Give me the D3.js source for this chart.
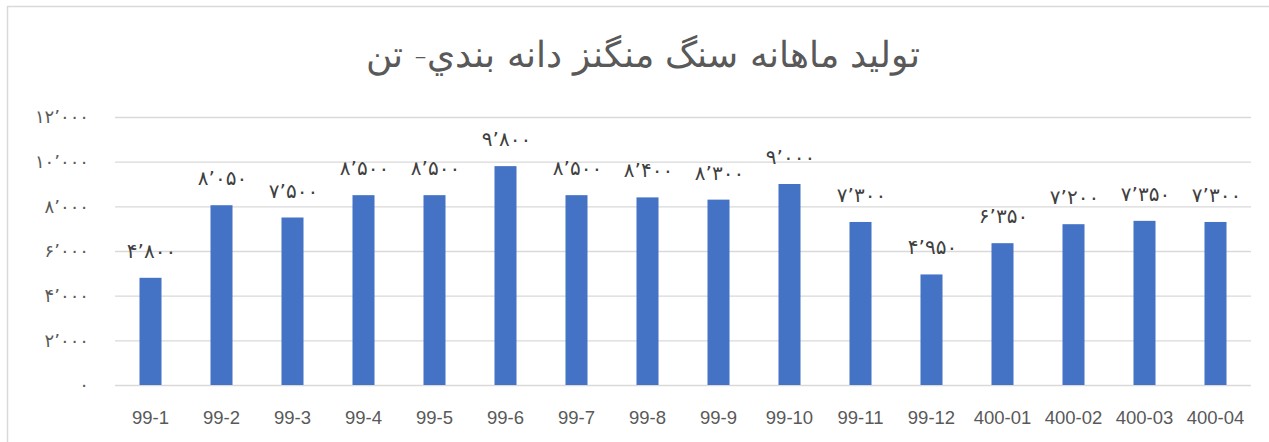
<!DOCTYPE html>
<html>
<head>
<meta charset="utf-8">
<script src="https://cdn.jsdelivr.net/npm/d3@7"></script>
<style>
  body { margin: 0; background: #fff; }
  svg { display: block; }
</style>
</head>
<body>
<div id="chart"></div>
<script>
/*------chart data------*/
var months = ["99-1", "99-2", "99-3", "99-4", "99-5", "99-6", "99-7", "99-8",
              "99-9", "99-10", "99-11", "99-12", "400-01", "400-02", "400-03", "400-04"];
var tons = [4800, 8050, 7500, 8500, 8500, 9800, 8500, 8400,
            8300, 9000, 7300, 4950, 6350, 7200, 7350, 7300];
var yTicks = [0, 2000, 4000, 6000, 8000, 10000, 12000];
var title = "تولید ماهانه سنگ منگنز دانه بندي- تن";

var width = 1269, height = 442;
var margin = {top: 117, right: 18, bottom: 57, left: 115};

var svg = d3.select("#chart")
    .append("svg")
    .attr("width", width)
    .attr("height", height);

// chart frame
svg.append("rect")
    .attr("x", 7.5).attr("y", 6.5)
    .attr("width", width).attr("height", height)
    .attr("fill", "none")
    .attr("stroke", "#d9d9d9")
    .attr("stroke-width", 1.5);

// persian digits with the ’ separator used in the original
var faDigits = "۰۱۲۳۴۵۶۷۸۹";
function faNum(v) {
  return d3.format(",")(v).replace(/,/g, "’").replace(/[0-9]/g, function(c) { return faDigits[+c]; });
}

var x = d3.scaleBand()
    .domain(months)
    .range([margin.left, width - margin.right])
    .paddingInner(0.69)
    .paddingOuter(0.345);

var y = d3.scaleLinear()
    .domain([0, 12000])
    .range([height - margin.bottom, margin.top]);

/*------gridlines------*/
svg.append("g")
    .selectAll("line")
    .data(yTicks)
    .enter()
    .append("line")
      .attr("x1", margin.left)
      .attr("x2", width - margin.right)
      .attr("y1", function(d) { return y(d) + 0.5; })
      .attr("y2", function(d) { return y(d) + 0.5; })
      .attr("stroke", "#d9d9d9")
      .attr("stroke-width", 1.3);

/*------y axis labels------*/
svg.append("g")
    .selectAll("text")
    .data(yTicks)
    .enter()
    .append("text")
      .attr("x", 89)
      .attr("y", function(d) { return y(d); })
      .attr("dy", "0.35em")
      .attr("text-anchor", "end")
      .attr("direction", "ltr")
      .style("font-family", "'DejaVu Sans', sans-serif")
      .style("font-size", "18px")
      .style("letter-spacing", "4px")
      .style("fill", "#595959")
      .text(function(d) { return faNum(d); });

/*------bars------*/
svg.append("g")
    .selectAll("rect")
    .data(tons)
    .enter()
    .append("rect")
      .attr("x", function(d, i) { return x(months[i]); })
      .attr("y", function(d) { return y(d); })
      .attr("width", x.bandwidth())
      .attr("height", function(d) { return y(0) - y(d); })
      .attr("fill", "#4472c4");

/*------data labels------*/
svg.append("g")
    .selectAll("text")
    .data(tons)
    .enter()
    .append("text")
      .attr("x", function(d, i) { return x(months[i]) + x.bandwidth() / 2 + 1; })
      .attr("y", function(d) { return y(d) - 20; })
      .attr("text-anchor", "middle")
      .attr("direction", "ltr")
      .style("font-family", "'DejaVu Sans', sans-serif")
      .style("font-size", "20px")
      .style("letter-spacing", "2.5px")
      .style("fill", "#404040")
      .text(function(d) { return faNum(d); });

/*------x axis labels------*/
svg.append("g")
    .selectAll("text")
    .data(months)
    .enter()
    .append("text")
      .attr("x", function(d) { return x(d) + x.bandwidth() / 2; })
      .attr("y", 424)
      .attr("text-anchor", "middle")
      .style("font-family", "'Liberation Sans', Arial, sans-serif")
      .style("font-size", "18.5px")
      .style("fill", "#595959")
      .text(function(d) { return d; });

/*------title------*/
svg.append("text")
    .attr("x", 643)
    .attr("y", 67)
    .attr("text-anchor", "middle")
    .attr("direction", "rtl")
    .style("font-family", "'DejaVu Sans', sans-serif")
    .style("font-size", "36px")
    .style("font-weight", "300")
    .style("fill", "#595959")
    .text(title);
</script>
</body>
</html>
